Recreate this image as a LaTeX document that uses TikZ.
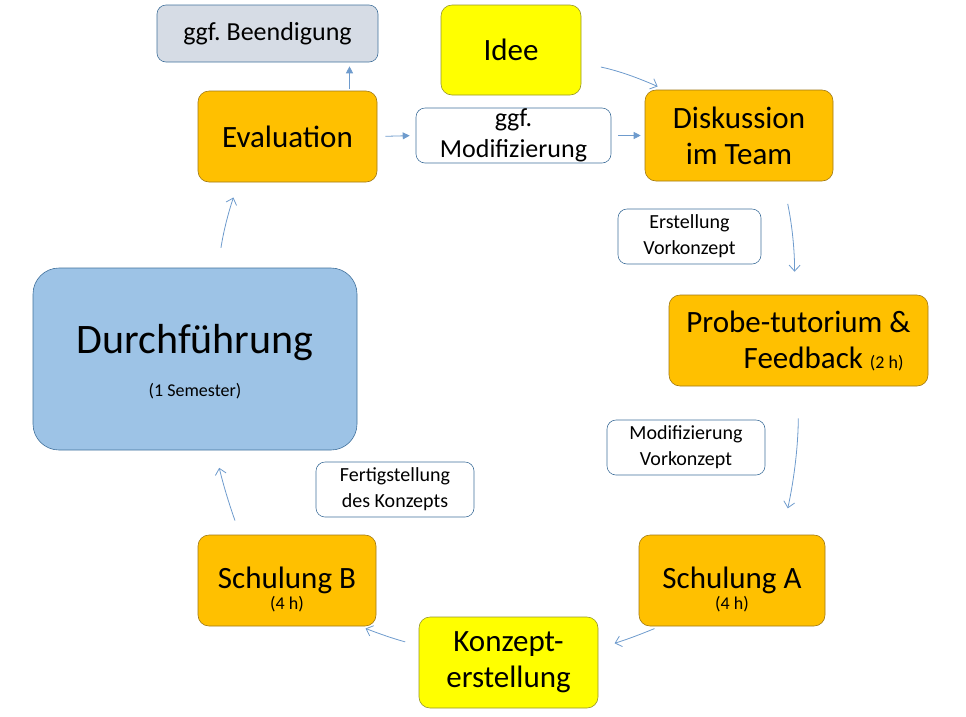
\documentclass[tikz,border=0pt]{standalone}
\usepackage{fontspec}
\setmainfont{Carlito}
\frenchspacing
\usetikzlibrary{positioning,arrows.meta}
\definecolor{boxorange}{RGB}{255,192,0}
\definecolor{edgeorange}{RGB}{160,120,20}
\definecolor{boxyellow}{RGB}{255,255,0}
\definecolor{edgeyellow}{RGB}{150,150,40}
\definecolor{boxsky}{RGB}{157,195,230}
\definecolor{boxgrey}{RGB}{214,220,229}
\definecolor{edgeblue}{RGB}{65,113,156}
\definecolor{arrowblue}{RGB}{110,155,205}
\tikzset{
  step box/.style={draw=edgeorange,fill=boxorange,line width=0.6pt,rounded corners=11pt,
    font=\fontsize{31}{36}\selectfont,align=center,inner sep=0pt},
  idea box/.style={step box,draw=edgeyellow,fill=boxyellow},
  note box/.style={draw=edgeblue,fill=white,line width=0.6pt,rounded corners=9pt,
    font=\fontsize{20}{26}\selectfont,align=center,inner sep=0pt},
  hours/.style={font=\fontsize{18}{20}\selectfont,inner sep=0pt},
  flow/.style={arrowblue,line width=0.8pt,-{Straight Barb[length=6pt,width=11pt]}},
  push/.style={arrowblue,line width=0.8pt,-{Triangle[length=7pt,width=7pt]}}
}
\begin{document}
\begin{tikzpicture}[x=1pt,y=-1pt]
  \useasboundingbox (0,0) rectangle (966,716);
  % Kreislauf
  \node[note box,fill=boxgrey,minimum width=221pt,minimum height=57pt,font=\fontsize{26}{30}\selectfont] (beend) at (267.5,33.5) {ggf. Beendigung};
  \node[idea box,minimum width=140pt,minimum height=90pt] (idee) at (511,50) {Idee};
  \node[step box,minimum width=179pt,minimum height=91pt] (eval) at (287.5,136.5) {Evaluation};
  \node[note box,minimum width=195pt,minimum height=55pt,font=\fontsize{26}{31}\selectfont] (modif) at (513.5,135.5) {ggf.\\Modifizierung};
  \node[step box,minimum width=188pt,minimum height=91pt] (disk) at (739,135.5) {Diskussion\\im Team};
  \node[note box,minimum width=143pt,minimum height=55pt] (erst) at (689.5,236.5) {Erstellung\\Vorkonzept};
  \node[step box,minimum width=259pt,minimum height=91pt,align=right] (probe) at (798.5,340.5)
    {Probe-tutorium \&\\Feedback {\fontsize{18}{20}\selectfont(2 h)}\hspace*{7pt}};
  \node[note box,minimum width=158pt,minimum height=55pt] (modvk) at (686,447.5) {Modifizierung\\Vorkonzept};
  \node[step box,minimum width=186pt,minimum height=91pt] (schA) at (732,580.5) {Schulung A};
  \node[hours] (schAh) at ([yshift=-24pt]schA.center) {(4 h)};
  \node[idea box,minimum width=179pt,minimum height=91pt] (konz) at (508.5,662.5) {Konzept-\\erstellung};
  \node[step box,minimum width=178pt,minimum height=91pt] (schB) at (287,580.5) {Schulung B};
  \node[hours] (schBh) at ([yshift=-24pt]schB.center) {(4 h)};
  \node[note box,minimum width=158pt,minimum height=55pt] (fert) at (395,489.5) {Fertigstellung\\des Konzepts};
  \node[draw=edgeblue,fill=boxsky,line width=0.6pt,rounded corners=26pt,minimum width=324pt,minimum height=182pt] (durch) at (195,359) {};
  \node[font=\fontsize{42}{48}\selectfont,inner sep=0pt] (durchname) at ([yshift=16pt]durch.center) {Durchführung};
  \node[hours] (durchzeit) at ([yshift=-32pt]durch.center) {(1 Semester)};
  % Pfeile
  \draw[push,shorten <=2pt,shorten >=4pt] ([xshift=62pt]eval.north) -- ([xshift=82pt]beend.south);
  \draw[push,shorten <=8pt,shorten >=6pt] (eval.east) -- (modif.west);
  \draw[push,shorten <=7pt,shorten >=4pt] (modif.east) -- (disk.west);
  \draw[flow,shorten <=20pt,shorten >=8pt] ([yshift=-13pt]idee.east) to[bend left=6] ([xshift=-74pt]disk.north);
  \draw[flow,shorten <=23pt,shorten >=23pt] ([xshift=44pt]disk.south) to[bend left=6] ([xshift=-4pt]probe.north);
  \draw[flow,shorten <=32pt,shorten >=27pt] ([xshift=0pt]probe.south) to[bend left=6] ([xshift=50pt]schA.north);
  \draw[flow,shorten <=6pt,shorten >=17pt] ([xshift=-72pt]schA.south) to[bend left=3] ([yshift=14.5pt]konz.east);
  \draw[flow,shorten <=14pt,shorten >=6pt] ([yshift=17pt]konz.west) to[bend left=3] ([xshift=73pt]schB.south);
  \draw[flow,shorten <=15pt,shorten >=18pt] ([xshift=-47pt]schB.north) to[bend left=3] ([xshift=20pt]durch.south);
  \draw[flow,shorten <=20pt,shorten >=16pt] ([xshift=23pt]durch.north) to[bend left=5] ([xshift=-49pt]eval.south);
\end{tikzpicture}
\end{document}
